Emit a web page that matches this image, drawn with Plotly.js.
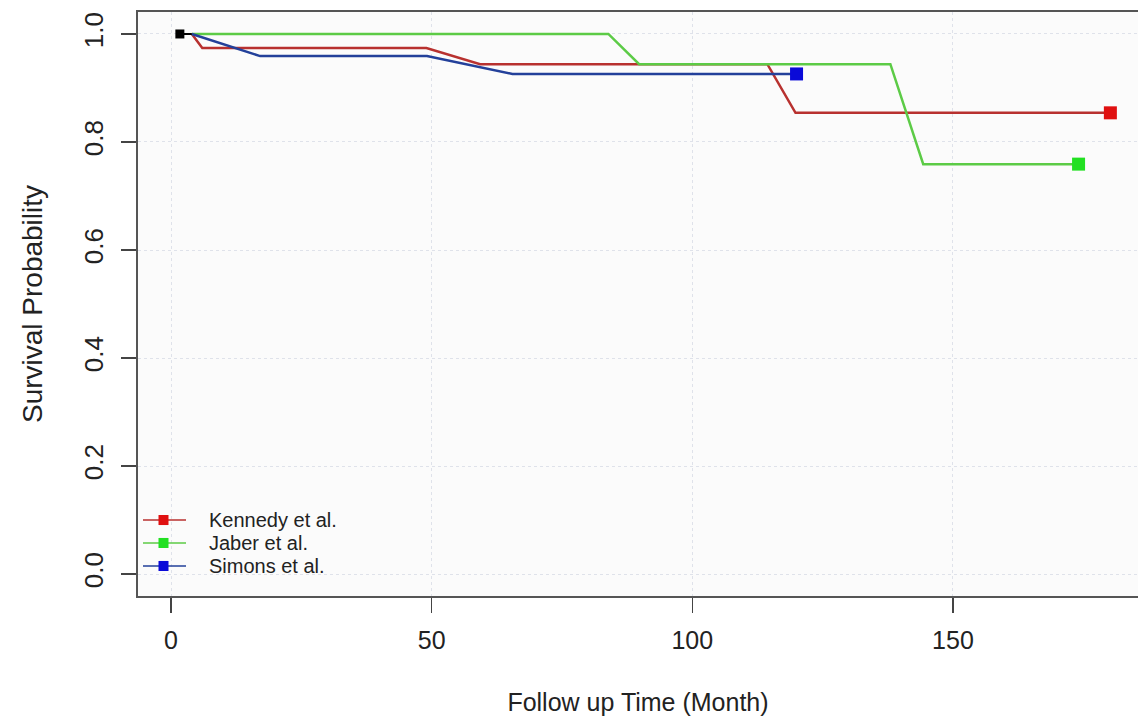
<!DOCTYPE html>
<html>
<head>
<meta charset="utf-8">
<script src="https://cdn.plot.ly/plotly-3.0.1.min.js"></script>
<style>html,body{margin:0;padding:0;background:#fff;}#chart{width:1138px;height:726px;}</style>
</head>
<body>
<div id="chart"></div>
<script>
// Kaplan-Meier style survival curves
const kennedyTime = [4, 6, 49, 59.3, 114.4, 119.8, 180.2];
const kennedySurv = [1.0, 0.974, 0.974, 0.944, 0.944, 0.854, 0.854];

const jaberTime = [4, 83.9, 89.8, 138.0, 144.3, 174.1];
const jaberSurv = [1.0, 1.0, 0.944, 0.944, 0.759, 0.759];

const simonsTime = [4, 17.1, 49.1, 65.5, 120];
const simonsSurv = [1.0, 0.959, 0.959, 0.926, 0.926];

const startTime = [1.7, 4];
const startSurv = [1.0, 1.0];

const seriesNames = ["Kennedy et al.", "Jaber et al.", "Simons et al."];
const lineColors = ["#b8312f", "#5ccb46", "#23409a"];
const markerColors = ["#e01010", "#22e022", "#0a0ad8"];
const xTicks = [0, 50, 100, 150];
const yTicks = [0.0, 0.2, 0.4, 0.6, 0.8, 1.0];
const yTickText = ["0.0", "0.2", "0.4", "0.6", "0.8", "1.0"];

const FONT = "'Liberation Sans', Arial, sans-serif";

function endSizes(arr, s) { return arr.map((_, i) => i === arr.length - 1 ? s : 0); }

const times = [kennedyTime, jaberTime, simonsTime];
const survs = [kennedySurv, jaberSurv, simonsSurv];

const traces = times.map((t, i) => ({
  x: t, y: survs[i], name: seriesNames[i], mode: "lines+markers", showlegend: false,
  line: {color: lineColors[i], width: 2.5},
  marker: {symbol: "square", color: markerColors[i], opacity: 1, line: {width: 0}, size: endSizes(t, 13)}
}));
traces.push({x: startTime, y: startSurv, mode: "lines+markers", showlegend: false,
  line: {color: "#000", width: 2},
  marker: {symbol: "square", color: "#000", opacity: 1, line: {width: 0}, size: [9, 0]}});

// Legend (bottom-left inside the plot), drawn in paper coordinates
const legendRowsY = [0.1301, 0.0908, 0.0514];
const shapes = [];
const annotations = [];
seriesNames.forEach((name, i) => {
  const yy = legendRowsY[i];
  shapes.push({type: "line", xref: "paper", yref: "paper", x0: 0.005, x1: 0.048, y0: yy, y1: yy,
    line: {color: lineColors[i], width: 1.6}});
  shapes.push({type: "rect", xref: "paper", yref: "paper", x0: 0.0205, x1: 0.0305, y0: yy - 0.0086, y1: yy + 0.0086,
    fillcolor: markerColors[i], line: {width: 0}});
  annotations.push({xref: "paper", yref: "paper", x: 0.069, y: yy, xanchor: "left", yanchor: "middle",
    text: name, showarrow: false, font: {family: FONT, size: 20, color: "#222"}});
});

const layout = {
  width: 1138, height: 726,
  margin: {l: 138, r: 0, t: 12, b: 130},
  paper_bgcolor: "#ffffff",
  plot_bgcolor: "#fbfbfb",
  font: {family: FONT, color: "#222"},
  showlegend: false,
  shapes: shapes,
  annotations: annotations,
  xaxis: {
    range: [-6.33, 185.5],
    tickvals: xTicks, ticktext: xTicks.map(String),
    ticks: "outside", ticklen: 15, tickwidth: 1.2, tickcolor: "#444",
    tickfont: {family: FONT, size: 25, color: "#222"},
    ticklabelstandoff: 6,
    showline: true, linecolor: "#555", linewidth: 2, mirror: true,
    showgrid: true, gridcolor: "#dfe2ea", griddash: "dot", gridwidth: 1,
    zeroline: false,
    title: {text: "Follow up Time (Month)", font: {family: FONT, size: 25, color: "#222"}, standoff: 40}
  },
  yaxis: {
    range: [-0.0407, 1.0407],
    tickvals: yTicks, ticktext: yTickText,
    ticks: "outside", ticklen: 15, tickwidth: 1.2, tickcolor: "#444",
    tickfont: {family: FONT, size: 26, color: "#222"},
    tickangle: -90,
    ticklabelstandoff: 8,
    showline: true, linecolor: "#555", linewidth: 2, mirror: false,
    showgrid: true, gridcolor: "#dfe2ea", griddash: "dot", gridwidth: 1,
    zeroline: false,
    title: {text: "Survival Probability", font: {family: FONT, size: 28, color: "#222"}, standoff: 28}
  }
};

Plotly.newPlot("chart", traces, layout, {displayModeBar: false, staticPlot: true});
</script>
</body>
</html>
